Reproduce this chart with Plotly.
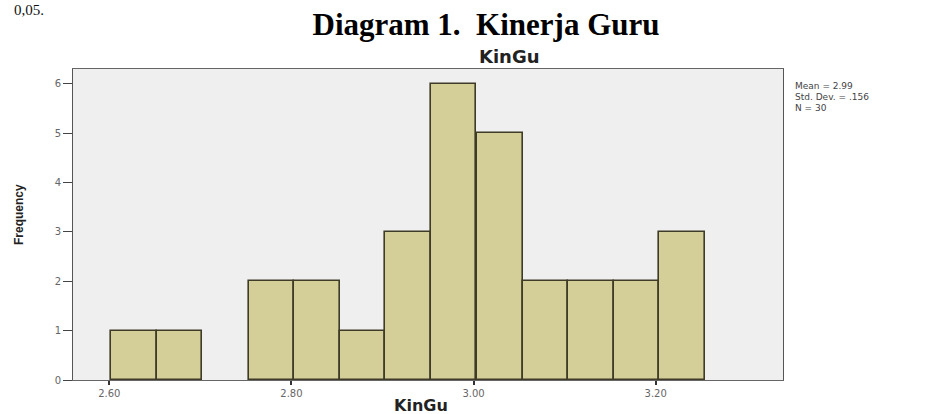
import plotly.graph_objects as go

# Histogram of KinGu (bin centres and counts)
bin_centers = [2.627, 2.677, 2.727, 2.778, 2.828, 2.878, 2.928, 2.978, 3.029, 3.079, 3.129, 3.179, 3.229]
frequencies = [1, 1, 0, 2, 2, 1, 3, 6, 5, 2, 2, 2, 3]
bin_width = 0.0502
x_tick_values = [2.6, 2.8, 3.0, 3.2]
x_tick_labels = ["2.60", "2.80", "3.00", "3.20"]
y_tick_values = [0, 1, 2, 3, 4, 5, 6]
stats_lines = ["Mean = 2.99", "Std. Dev. = .156", "N = 30"]

W, H = 926, 414
L, R, T, B = 73, 783, 69, 380  # plot area in pixels


def px(x):
    return (x - L) / (R - L)


def py(y):
    return (B - y) / (B - T)


fig = go.Figure()
fig.add_trace(go.Bar(
    x=bin_centers,
    y=frequencies,
    width=bin_width,
    marker=dict(color="#D4CF98",
                line=dict(color="#3E3B26", width=[1.6 if f > 0 else 0 for f in frequencies])),
    hoverinfo="x+y",
))

annotations = [
    dict(text="<b>KinGu</b>", x=px(477), y=py(57), xref="paper", yref="paper",
         showarrow=False, xanchor="left", yanchor="middle",
         font=dict(family="DejaVu Sans", size=18, color="#222222")),
    dict(text="<b>KinGu</b>", x=px(421), y=py(405), xref="paper", yref="paper",
         showarrow=False, xanchor="center", yanchor="middle",
         font=dict(family="DejaVu Sans", size=16, color="#222222")),
    dict(text="<b>Frequency</b>", x=px(19), y=py(215), xref="paper", yref="paper",
         showarrow=False, xanchor="center", yanchor="middle", textangle=-90,
         font=dict(family="Liberation Sans Narrow, Liberation Sans, sans-serif", size=12, color="#222222")),
    dict(text="0,05.", x=px(46), y=py(0), xref="paper", yref="paper",
         showarrow=False, xanchor="right", yanchor="top",
         font=dict(family="Liberation Serif", size=15, color="#111111")),
]
for i, line in enumerate(stats_lines):
    annotations.append(dict(
        text=line, x=px(793), y=py(86 + 11 * i), xref="paper", yref="paper",
        showarrow=False, xanchor="left", yanchor="middle",
        font=dict(family="DejaVu Sans", size=9, color="#444444")))

fig.update_layout(
    width=W, height=H,
    margin=dict(l=L, r=W - R, t=T, b=H - B, pad=0, autoexpand=False),
    paper_bgcolor="white",
    plot_bgcolor="#EFEFEF",
    showlegend=False,
    bargap=0,
    title=dict(
        text="<b>Diagram 1.\u00a0\u00a0Kinerja Guru</b>",
        x=486 / W, xanchor="center",
        y=1 - 24 / H, yanchor="middle", yref="container",
        font=dict(family="Liberation Serif", size=31, color="#000000"),
    ),
    xaxis=dict(
        range=[2.5601, 3.3398], automargin=False,
        tickvals=x_tick_values, ticktext=x_tick_labels,
        ticks="outside", ticklen=4, tickcolor="#333333", tickwidth=1.5,
        tickfont=dict(family="DejaVu Sans", size=10, color="#666666"),
        showline=True, linecolor="#666666", linewidth=1, mirror=True,
        showgrid=False, zeroline=False,
    ),
    yaxis=dict(
        range=[0, 6.3], automargin=False,
        tickvals=y_tick_values,
        ticks="outside", ticklen=9, tickcolor="#444444", tickwidth=1,
        tickfont=dict(family="DejaVu Sans", size=10, color="#666666"),
        showline=True, linecolor="#555555", linewidth=1, mirror=True,
        showgrid=False, zeroline=False,
    ),
    annotations=annotations,
)

fig.write_html("out.html", config={"displayModeBar": False},
               post_script="document.body.style.margin='0';")
